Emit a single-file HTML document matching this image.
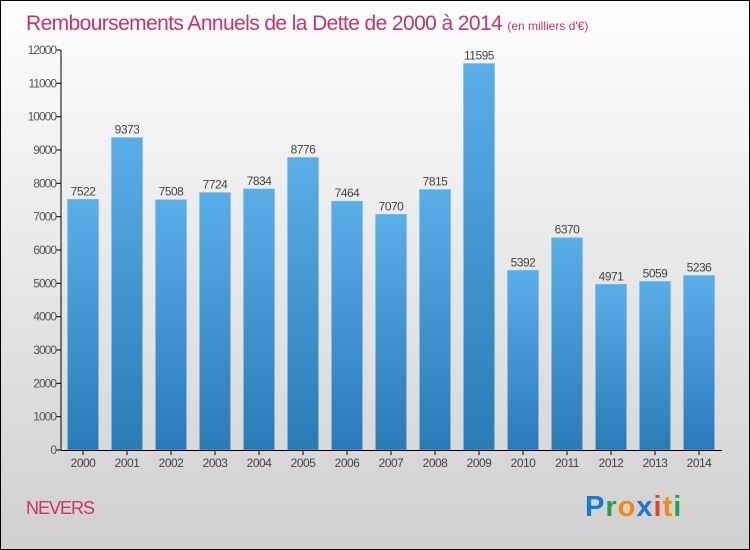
<!DOCTYPE html>
<html><head><meta charset="utf-8"><style>
body{margin:0;}
#wrap{position:relative;width:748px;height:548px;border:1px solid #000;background:linear-gradient(#fefefe,#d0d0d0);font-family:"Liberation Sans",sans-serif;overflow:hidden}
</style></head><body>
<div id="wrap">
<svg id="c" width="748" height="548">
<defs><linearGradient id="bg" x1="0" x2="0" y1="0" y2="1"><stop offset="0" stop-color="#5aaee8"/><stop offset="1" stop-color="#2a7ab8"/></linearGradient></defs>
<text x="25" y="29" font-size="21" letter-spacing="-0.6" fill="#c8336a">Remboursements Annuels de la Dette de 2000 à 2014 <tspan font-size="12" letter-spacing="0">(en milliers d'€)</tspan></text>
<text x="25" y="513" font-size="18" letter-spacing="-1" fill="#c8336a">NEVERS</text>
<g font-size="29" font-weight="bold" font-family="'Liberation Sans',sans-serif">
<text x="584" y="515" letter-spacing="1"><tspan fill="#1a78d0">P</tspan><tspan fill="#2aa04a">r</tspan><tspan fill="#f08a10">o</tspan><tspan fill="#1a78d0">x</tspan><tspan fill="#e84020">i</tspan><tspan fill="#f08a10">t</tspan><tspan fill="#2aa04a">i</tspan></text></g>
<g id="plot"></g>
</svg></div>
<script>
const years=["2000","2001","2002","2003","2004","2005","2006","2007","2008","2009","2010","2011","2012","2013","2014"];
const values=[7522,9373,7508,7724,7834,8776,7464,7070,7815,11595,5392,6370,4971,5059,5236];
const ticks=[0,1000,2000,3000,4000,5000,6000,7000,8000,9000,10000,11000,12000];
const ns="http://www.w3.org/2000/svg",g=document.getElementById('plot');
const y=v=>449-v*(400/12000), x=i=>82+i*44;
function mk(t,a,txt){const e=document.createElementNS(ns,t);for(const k in a)e.setAttribute(k,a[k]);if(txt!=null)e.textContent=txt;g.appendChild(e);return e;}
ticks.forEach(t=>{const l=mk('line',{x1:55,x2:60,y1:y(t),y2:y(t),stroke:'#000'});

const tx=mk('text',{x:55,y:y(t)+4,'font-size':12,fill:'#555','text-anchor':'end','letter-spacing':'-1'},t);
});
values.forEach((v,i)=>{const r=mk('rect',{x:x(i)-15.5,y:y(v),width:31,height:y(0)-y(v),fill:'url(#bg)',stroke:'#7cc0f0','stroke-width':0.6});

const t=mk('text',{x:x(i),y:y(v)-4,'font-size':12,fill:'#444','text-anchor':'middle','letter-spacing':'-0.5'},v);

const yl=mk('text',{x:x(i),y:466,'font-size':12,fill:'#444','text-anchor':'middle','letter-spacing':'-0.5'},years[i]);

const tk=mk('line',{x1:x(i),x2:x(i),y1:449,y2:454,stroke:'#000'});
});
const ya=mk('line',{x1:60,x2:60,y1:y(12000),y2:449,stroke:'#000'});
const xa=mk('line',{x1:60,x2:721,y1:449.5,y2:449.5,stroke:'#000'});
</script>
</body></html>
